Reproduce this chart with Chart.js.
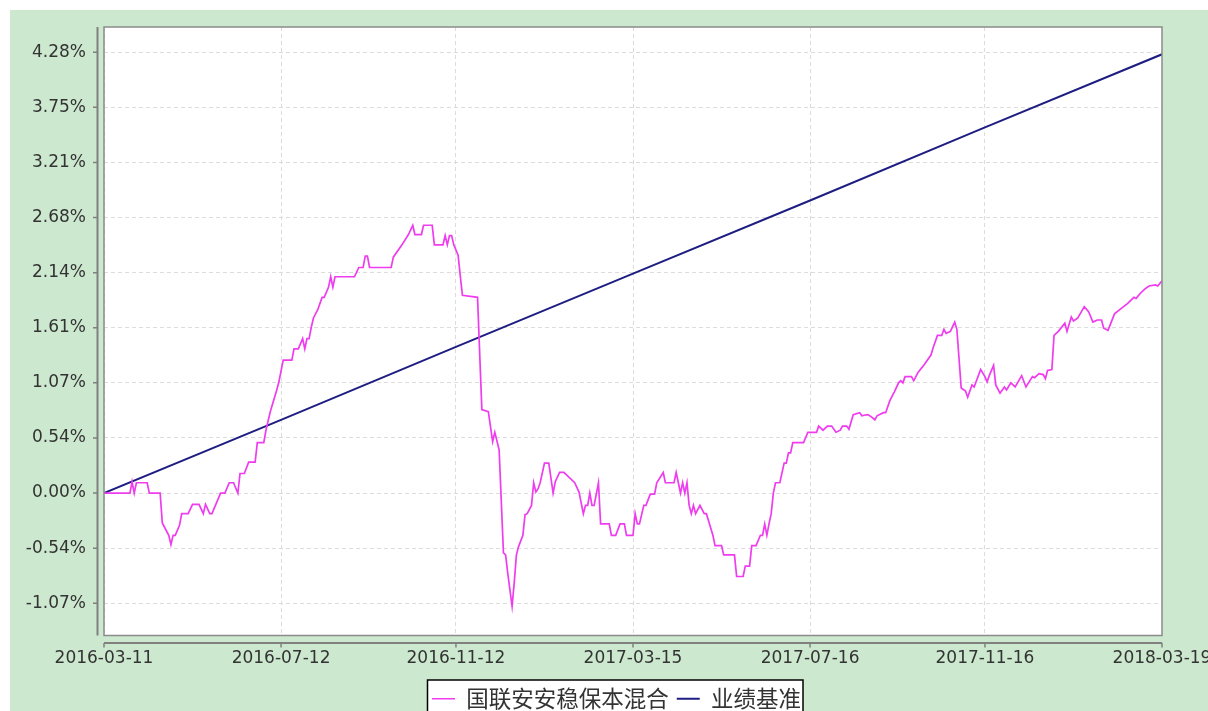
<!DOCTYPE html>
<html lang="zh">
<head>
  <meta charset="UTF-8">
  <title>国联安安稳保本混合</title>
  <script src="https://cdn.jsdelivr.net/npm/chart.js@4.4.1/dist/chart.umd.min.js"></script>
  <style>
    html, body { margin: 0; padding: 0; background: #ffffff; overflow: hidden; }
    #wrap {
      position: absolute;
      left: 10px;
      top: 10px;
      width: 1198px;
      height: 710px;
      background: #cce8cf;
    }
  </style>
</head>
<body>
  <div id="wrap">
    <canvas id="nav-chart" width="1198" height="710"></canvas>
  </div>

  <script>
    // x axis = trading day counted from 2016-03-11 (about 490 days up to 2018-03-19)
    var xTickDays = [0, 82, 163, 245, 327, 408, 490];
    var xTickLabels = ['2016-03-11', '2016-07-12', '2016-11-12', '2017-03-15', '2017-07-16', '2017-11-16', '2018-03-19'];

    var yTickValues = [-1.07, -0.535, 0, 0.535, 1.07, 1.605, 2.14, 2.675, 3.21, 3.745, 4.28];
    var yTickLabels = ['-1.07%', '-0.54%', '0.00%', '0.54%', '1.07%', '1.61%', '2.14%', '2.68%', '3.21%', '3.75%', '4.28%'];

    var seriesNames = ['国联安安稳保本混合', '业绩基准'];

    // 国联安安稳保本混合, cumulative return in %
    var fundDays = [
      0, 12, 13, 14, 15, 20, 21, 26, 27, 30, 31, 32, 33, 35, 36, 39, 41, 44, 46, 47,
      49, 50, 54, 56, 58, 60, 62, 63, 65, 67, 70, 71, 74, 75, 77, 80, 81, 83, 87, 88,
      90, 92, 93, 94, 95, 96, 97, 99, 101, 102, 104, 105, 106, 107, 116, 118, 120, 121, 122, 123,
      133, 134, 138, 141, 143, 144, 147, 148, 152, 153, 157, 158, 159, 160, 161, 162, 164, 165, 166, 173,
      175, 178, 180, 181, 183, 185, 186, 187, 189, 190, 191, 192, 194, 195, 196, 198, 199, 200, 201, 202,
      204, 206, 208, 209, 211, 213, 218, 220, 222, 223, 224, 225, 226, 227, 229, 230, 234, 235, 237, 239,
      241, 242, 245, 246, 247, 248, 250, 251, 253, 255, 256, 259, 260, 264, 265, 266, 267, 268, 269, 270,
      271, 272, 273, 274, 276, 278, 279, 282, 283, 286, 287, 292, 293, 296, 297, 299, 300, 302, 304, 305,
      306, 307, 308, 309, 310, 311, 313, 315, 316, 317, 318, 319, 324, 326, 330, 331, 333, 335, 337, 339,
      341, 342, 344, 345, 347, 350, 351, 353, 354, 356, 357, 358, 361, 362, 364, 366, 368, 369, 370, 371,
      374, 375, 377, 380, 383, 384, 386, 388, 389, 390, 392, 394, 395, 397, 399, 400, 402, 403, 406, 408,
      409, 410, 412, 413, 415, 417, 418, 420, 422, 425, 427, 430, 431, 433, 435, 436, 437, 439, 440, 442,
      445, 446, 448, 449, 451, 454, 456, 458, 460, 462, 463, 465, 468, 471, 474, 477, 478, 480, 482, 484,
      487, 488, 490
    ];
    var fundValues = [
      0.00, 0.00, 0.11, 0.00, 0.10, 0.10, 0.00, 0.00, -0.29, -0.41, -0.50, -0.41, -0.41, -0.31, -0.20, -0.20, -0.11, -0.11, -0.20, -0.11,
      -0.20, -0.20, 0.00, 0.00, 0.10, 0.10, 0.00, 0.19, 0.19, 0.30, 0.30, 0.49, 0.49, 0.61, 0.79, 1.00, 1.08, 1.29, 1.29, 1.40,
      1.40, 1.50, 1.40, 1.50, 1.50, 1.61, 1.70, 1.78, 1.90, 1.90, 2.00, 2.10, 2.00, 2.10, 2.10, 2.19, 2.19, 2.30, 2.30, 2.19,
      2.19, 2.29, 2.41, 2.51, 2.60, 2.51, 2.51, 2.60, 2.60, 2.41, 2.41, 2.50, 2.41, 2.50, 2.50, 2.41, 2.31, 2.11, 1.92, 1.90,
      0.81, 0.79, 0.50, 0.59, 0.42, -0.58, -0.60, -0.78, -1.10, -0.87, -0.60, -0.52, -0.41, -0.21, -0.20, -0.12, 0.10, 0.01, 0.04, 0.10,
      0.29, 0.29, 0.00, 0.11, 0.20, 0.20, 0.10, 0.01, -0.20, -0.12, -0.12, 0.00, -0.12, -0.12, 0.10, -0.30, -0.30, -0.41, -0.41, -0.30,
      -0.30, -0.41, -0.41, -0.20, -0.30, -0.30, -0.12, -0.12, -0.01, -0.01, 0.10, 0.20, 0.10, 0.10, 0.20, 0.10, 0.00, 0.10, 0.00, 0.10,
      -0.12, -0.20, -0.12, -0.20, -0.12, -0.20, -0.20, -0.41, -0.51, -0.51, -0.60, -0.60, -0.81, -0.81, -0.71, -0.71, -0.51, -0.51, -0.41, -0.41,
      -0.30, -0.41, -0.30, -0.20, 0.00, 0.10, 0.10, 0.29, 0.29, 0.39, 0.39, 0.49, 0.49, 0.59, 0.59, 0.65, 0.61, 0.65, 0.65, 0.59,
      0.61, 0.65, 0.65, 0.62, 0.76, 0.78, 0.75, 0.76, 0.76, 0.73, 0.71, 0.75, 0.78, 0.78, 0.90, 0.98, 1.07, 1.09, 1.07, 1.13,
      1.13, 1.09, 1.17, 1.25, 1.34, 1.41, 1.53, 1.53, 1.59, 1.55, 1.57, 1.66, 1.59, 1.02, 0.99, 0.93, 1.05, 1.03, 1.20, 1.13,
      1.08, 1.14, 1.24, 1.05, 0.97, 1.03, 1.00, 1.07, 1.03, 1.14, 1.03, 1.13, 1.12, 1.16, 1.15, 1.11, 1.19, 1.20, 1.53, 1.57,
      1.65, 1.57, 1.71, 1.67, 1.70, 1.81, 1.76, 1.66, 1.68, 1.68, 1.60, 1.58, 1.74, 1.79, 1.84, 1.90, 1.89, 1.94, 1.98, 2.01,
      2.02, 2.01, 2.06
    ];

    // 业绩基准 - almost a straight line
    var benchDays = [0, 82, 163, 245, 327, 408, 490];
    var benchValues = [0.00, 0.71, 1.42, 2.13, 2.84, 3.55, 4.26];

    function toPoints(days, values) {
      return days.map(function (d, i) { return { x: d, y: values[i] }; });
    }

    // stop the scales from pushing the plot in for their edge labels
    function noScalePadding(scale) {
      scale.paddingTop = 0;
      scale.paddingBottom = 0;
      scale.paddingLeft = 0;
      scale.paddingRight = 0;
    }

    // white plot area, grey frame, axis lines standing a bit off the plot, legend box
    var framePlugin = {
      id: 'frame',
      beforeDraw: function (chart) {
        var ctx = chart.ctx, a = chart.chartArea;
        ctx.save();
        ctx.fillStyle = '#ffffff';
        ctx.fillRect(a.left, a.top, a.right - a.left, a.bottom - a.top);

        var hb = chart.legend.legendHitBoxes;
        if (hb && hb.length) {
          var last = hb[hb.length - 1];
          var bx = hb[0].left - 4.5, by = hb[0].top - 7.5;
          var bw = last.left + last.width + 2 - bx;
          ctx.fillStyle = '#ffffff';
          ctx.fillRect(bx, by, bw, chart.height + 10 - by);
          ctx.strokeStyle = '#000000';
          ctx.lineWidth = 1.5;
          ctx.strokeRect(bx, by, bw, chart.height + 10 - by);
        }
        ctx.restore();
      },
      afterDraw: function (chart) {
        var ctx = chart.ctx, a = chart.chartArea;
        var xs = chart.scales.x, ys = chart.scales.y;
        ctx.save();
        ctx.strokeStyle = '#8a8a8a';
        ctx.lineWidth = 1.5;
        ctx.strokeRect(a.left, a.top, a.right - a.left, a.bottom - a.top);

        ctx.strokeStyle = '#808080';
        ctx.lineWidth = 2;
        ctx.beginPath();
        ctx.moveTo(a.left - 6.5, a.top);
        ctx.lineTo(a.left - 6.5, a.bottom);
        ctx.moveTo(a.left, a.bottom + 7.5);
        ctx.lineTo(a.right, a.bottom + 7.5);
        ctx.stroke();

        ctx.lineWidth = 1.5;
        ctx.beginPath();
        ys.ticks.forEach(function (t) {
          var py = ys.getPixelForValue(t.value);
          ctx.moveTo(a.left - 11, py);
          ctx.lineTo(a.left - 6.5, py);
        });
        xs.ticks.forEach(function (t) {
          var px = xs.getPixelForValue(t.value);
          ctx.moveTo(px, a.bottom + 7.5);
          ctx.lineTo(px, a.bottom + 12);
        });
        ctx.stroke();
        ctx.restore();
      }
    };

    var tickFont = { family: 'DejaVu Sans', size: 17 };

    var chart = new Chart('nav-chart', {
      type: 'line',
      data: {
        datasets: [
          {
            label: seriesNames[0],
            data: toPoints(fundDays, fundValues),
            borderColor: '#ee3cee',
            backgroundColor: '#ee3cee',
            borderWidth: 1.7,
            pointRadius: 0,
            tension: 0,
            fill: false
          },
          {
            label: seriesNames[1],
            data: toPoints(benchDays, benchValues),
            borderColor: '#1e1e82',
            backgroundColor: '#1e1e82',
            borderWidth: 2,
            pointRadius: 0,
            tension: 0,
            fill: false
          }
        ]
      },
      options: {
        responsive: false,
        animation: false,
        devicePixelRatio: 1,
        layout: {
          autoPadding: false,
          // negative right padding only nudges the legend to the right
          padding: { left: 0, right: -15, top: 17, bottom: 0 }
        },
        scales: {
          x: {
            type: 'linear',
            min: 0,
            max: 490,
            afterBuildTicks: function (scale) {
              scale.ticks = xTickDays.map(function (d) { return { value: d }; });
            },
            afterFit: function (scale) {
              scale.height = 44;
              noScalePadding(scale);
            },
            ticks: {
              autoSkip: false,
              maxRotation: 0,
              padding: 13,
              color: '#333333',
              font: tickFont,
              callback: function (value, index) { return xTickLabels[index]; }
            },
            grid: {
              color: '#dcdcdc',
              lineWidth: 1,
              drawTicks: false,
              tickLength: 0
            },
            border: { display: false, dash: [4, 3] }
          },
          y: {
            min: -1.383,
            max: 4.525,
            afterBuildTicks: function (scale) {
              scale.ticks = yTickValues.map(function (v) { return { value: v }; });
            },
            afterFit: function (scale) {
              scale.width = 94;
              noScalePadding(scale);
            },
            ticks: {
              autoSkip: false,
              padding: 18,
              color: '#333333',
              font: tickFont,
              callback: function (value, index) { return yTickLabels[index]; }
            },
            grid: {
              color: '#dcdcdc',
              lineWidth: 1,
              drawTicks: false,
              tickLength: 0
            },
            border: { display: false, dash: [4, 3] }
          },
          // empty axis on the right, only keeps the green margin there
          yRight: {
            position: 'right',
            display: true,
            afterFit: function (scale) {
              scale.width = 61;
              noScalePadding(scale);
            },
            ticks: { display: false },
            grid: { display: false },
            border: { display: false }
          }
        },
        plugins: {
          legend: {
            position: 'bottom',
            labels: {
              usePointStyle: true,
              pointStyle: 'line',
              pointStyleWidth: 23,
              padding: 8,
              color: '#333333',
              font: { family: 'Noto Sans CJK SC', size: 22.5 }
            }
          },
          tooltip: { enabled: false }
        }
      },
      plugins: [framePlugin]
    });
  </script>
</body>
</html>
